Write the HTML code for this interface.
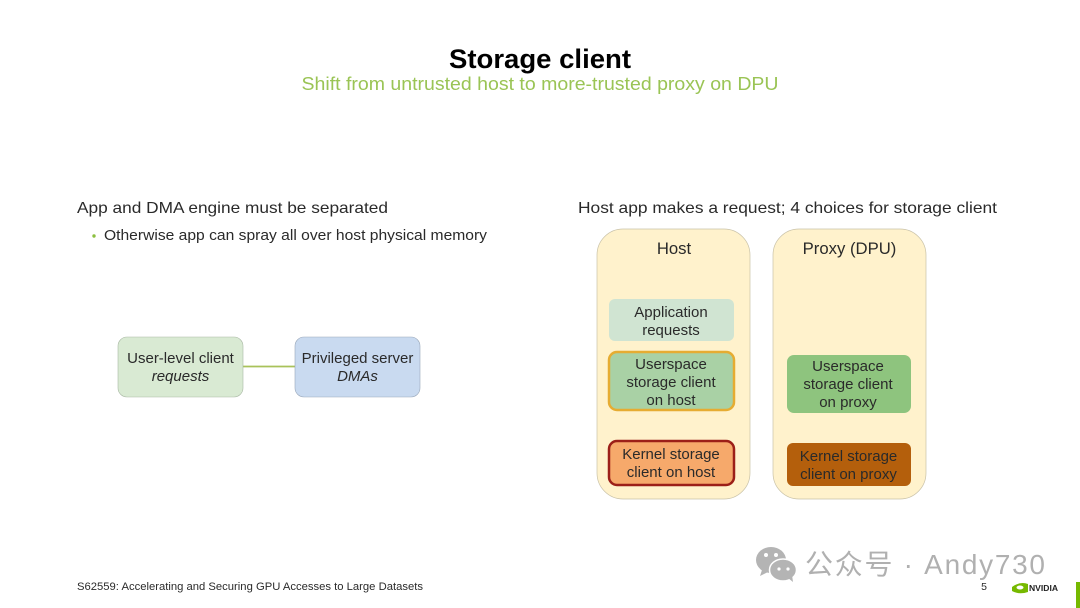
<!DOCTYPE html>
<html><head><meta charset="utf-8"><style>
html,body{margin:0;padding:0;background:#fff}
svg{display:block}
text{font-family:"Liberation Sans","Noto Sans CJK SC",sans-serif;fill:#2a2a2a;text-anchor:middle}
.l{text-anchor:start}
.b{font-size:15px}
</style></head><body>
<svg width="1080" height="608" viewBox="0 0 1080 608" xmlns="http://www.w3.org/2000/svg">
<rect width="1080" height="608" fill="#fff"/>
<text x="540" y="68" font-size="27" font-weight="700" style="fill:#000" textLength="182" lengthAdjust="spacingAndGlyphs">Storage client</text>
<text x="540" y="90" font-size="18" style="fill:#9ac455" textLength="477" lengthAdjust="spacingAndGlyphs">Shift from untrusted host to more-trusted proxy on DPU</text>
<text class="l" x="77" y="213" font-size="16" textLength="311" lengthAdjust="spacingAndGlyphs">App and DMA engine must be separated</text>
<circle cx="94" cy="236" r="1.7" fill="#8cbf3f"/>
<text class="l" x="104" y="240" font-size="14.5" textLength="383" lengthAdjust="spacingAndGlyphs">Otherwise app can spray all over host physical memory</text>
<text class="l" x="578" y="213" font-size="16" textLength="419" lengthAdjust="spacingAndGlyphs">Host app makes a request; 4 choices for storage client</text>

<line x1="243" y1="366.5" x2="295" y2="366.5" stroke="#a9c25a" stroke-width="1.8"/>
<rect x="118" y="337" width="125" height="60" rx="9" fill="#d9ead3" stroke="#a9b8a4" stroke-width=".6"/>
<rect x="295" y="337" width="125" height="60" rx="9" fill="#c9daf0" stroke="#9aa8ba" stroke-width=".6"/>
<text class="b" x="180.500" y="363">User-level client</text>
<text class="b" x="180.500" y="381" font-style="italic">requests</text>
<text class="b" x="357.500" y="363">Privileged server</text>
<text class="b" x="357.500" y="381" font-style="italic">DMAs</text>

<rect x="597" y="229" width="153" height="270" rx="26" fill="#fff2cc" stroke="#c9c2a8" stroke-width=".7"/>
<rect x="773" y="229" width="153" height="270" rx="26" fill="#fff2cc" stroke="#c9c2a8" stroke-width=".7"/>
<text x="674" y="254" font-size="16.700">Host</text>
<text x="849.500" y="254" font-size="16.700">Proxy (DPU)</text>

<rect x="609" y="299" width="125" height="42" rx="6" fill="#d0e4d2"/>
<text class="b" x="671" y="317">Application</text>
<text class="b" x="671" y="335">requests</text>

<rect x="609" y="352" width="125" height="58" rx="8" fill="#a9d1a5" stroke="#e6ac32" stroke-width="2.500"/>
<text class="b" x="671" y="369">Userspace</text>
<text class="b" x="671" y="387">storage client</text>
<text class="b" x="671" y="405">on host</text>

<rect x="609" y="441" width="125" height="44" rx="8" fill="#f6a96b" stroke="#9c1f18" stroke-width="2.500"/>
<text class="b" x="671" y="459">Kernel storage</text>
<text class="b" x="671" y="477">client on host</text>

<rect x="787" y="355" width="124" height="58" rx="7" fill="#8ec47e"/>
<text class="b" x="848" y="371">Userspace</text>
<text class="b" x="848" y="389">storage client</text>
<text class="b" x="848" y="407">on proxy</text>

<rect x="787" y="443" width="124" height="43" rx="6" fill="#b45f0c"/>
<text class="b" x="848.500" y="461">Kernel storage</text>
<text class="b" x="848.500" y="479">client on proxy</text>

<text class="l" x="77" y="590" font-size="11" textLength="346" lengthAdjust="spacingAndGlyphs">S62559: Accelerating and Securing GPU Accesses to Large Datasets</text>
<text x="984" y="590" font-size="10.500">5</text>

<!-- WeChat watermark -->
<ellipse cx="771" cy="560" rx="15" ry="13" fill="#b4b4b4"/>
<path d="M762 570l-2 6 8-4z" fill="#b4b4b4"/>
<circle cx="766" cy="555" r="2" fill="#fff"/><circle cx="776" cy="555" r="2" fill="#fff"/>
<ellipse cx="783" cy="570" rx="13.500" ry="11" fill="#b4b4b4" stroke="#fff" stroke-width="1.500"/>
<path d="M788 578l5 4-1-7z" fill="#b4b4b4"/>
<circle cx="779" cy="569" r="1.600" fill="#fff"/><circle cx="788" cy="569" r="1.600" fill="#fff"/>
<text class="l" x="805" y="574" font-size="28" style="fill:#b0b0b0" textLength="240" lengthAdjust="spacing">公众号 · Andy730</text>

<!-- NVIDIA logo -->
<path d="M1012 587q8-6 16-3v8q-9 3-16-1z" fill="#76b900"/>
<ellipse cx="1020" cy="587.500" rx="3.500" ry="2" fill="#fff"/>
<text class="l" x="1029" y="591" font-size="8.500" font-weight="700" style="fill:#222" textLength="29" lengthAdjust="spacingAndGlyphs">NVIDIA</text>
<rect x="1076" y="582" width="4" height="26" fill="#76b900"/>
</svg>
</body></html>
